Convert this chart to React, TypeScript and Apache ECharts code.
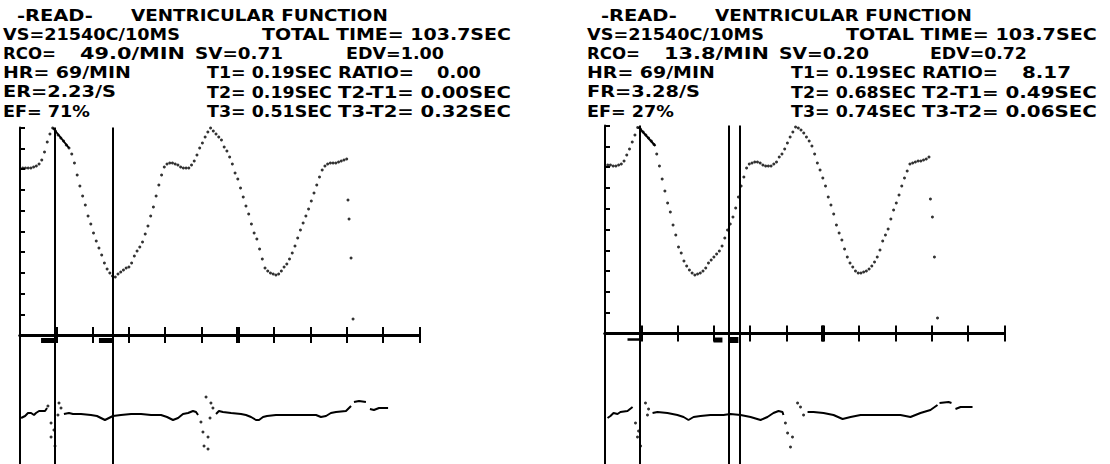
import React, { useEffect, useRef } from "react";
import * as echarts from "echarts";

// ---------- data ----------
const TIME_MAX = 2.2; // s
const TIME_TICK = 0.2; // s
const VOL_T0 = 0.015; // s, first volume sample
const VOL_DT = 0.015; // s, sample step
const EMPHASIZED_TICK = 1.2; // s

// relative volume counts, one value per sample
const LEFT_VOLUME = [
  167, 167, 167, 167, 168, 169, 171, 175, 183, 193,
  201, 207, 204, 200, 197, 194, 190, 187, 181, 172,
  160, 149, 139, 130, 119, 111, 102, 94, 87, 80,
  72, 66, 62, 59, 58, 61, 63, 65, 67, 68,
  72, 79, 84, 88, 93, 101, 109, 119, 128, 139,
  150, 160, 168, 171, 172, 172, 171, 170, 168, 167,
  167, 167, 170, 174, 180, 187, 192, 198, 203, 207,
  204, 201, 198, 195, 188, 184, 178, 171, 162, 156,
  147, 138, 129, 121, 111, 102, 96, 86, 76, 67,
  64, 62, 61, 60, 61, 64, 68, 71, 76, 82,
  89, 97, 105, 112, 119, 126, 134, 142, 150, 158,
  165, 169, 171, 172, 172, 172, 173, 174, 175, 176,
];
const RIGHT_VOLUME = [
  168.5, 168.5, 167.5, 167.5, 168.5, 169.5, 172.5, 178.5, 184.5, 191.5,
  198.5, 206, 204.5, 201.5, 198.5, 195.5, 192.5, 189, 179.5, 167.5,
  154.5, 142.5, 130.5, 121.5, 108.5, 98.5, 86.5, 80.5, 72.5, 67.5,
  63.5, 60.5, 58.5, 59.5, 60.5, 62.5, 65.5, 70.5, 73.5, 76.5,
  79.5, 82.5, 87.5, 95.5, 103.5, 109.5, 116.5, 125.5, 136.5, 147.5,
  156.5, 165.5, 169.5, 170.5, 171.5, 171.5, 170.5, 168.5, 167.5, 167.5,
  167.5, 169.5, 171.5, 176.5, 179.5, 184.5, 190.5, 196.5, 201.5, 206.5,
  205.5, 203.5, 200.5, 196.5, 192.5, 187.5, 179.5, 170.5, 163.5, 155.5,
  147.5, 136.5, 128.5, 119.5, 108.5, 100.5, 93.5, 84.5, 76.5, 70.5,
  66.5, 62.5, 60.5, 60.5, 61.5, 62.5, 64.5, 67.5, 71.5, 76.5,
  83.5, 92.5, 98.5, 104.5, 114.5, 123.5, 130.5, 138.5, 147.5, 155.5,
  162.5, 169.5, 170.5, 171.5, 172.5, 172.5, 173.5, 174.5, 176.5,
];
const LEFT_VOLUME_LINK = [[0.182, 207], [0.27, 187]];
const RIGHT_VOLUME_LINK = [[0.184, 206.5], [0.278, 187.5]];
const LEFT_VOLUME_TAIL = [[1.807, 135], [1.813, 116], [1.824, 77], [1.835, 16]];
const RIGHT_VOLUME_TAIL = [[1.793, 134.5], [1.804, 116.5], [1.815, 76.5], [1.832, 15.5]];

const LEFT_CURSORS = [0.19, 0.51];
const RIGHT_CURSORS = [0.19, 0.68, 0.74];

// ECG (relative amplitude, baseline 0)
const LEFT_ECG_SEGMENTS = [
  [[0.006, -1], [0.028, 1], [0.044, 4], [0.061, 4], [0.077, 2], [0.088, 4], [0.105, 6], [0.138, 6], [0.149, 9]],
  [[0.242, 3], [0.27, 4], [0.292, 3], [0.336, 3], [0.391, 2], [0.424, 1], [0.446, -1], [0.468, -3], [0.49, -1], [0.512, 1], [0.556, 2], [0.612, 3], [0.667, 3], [0.722, 2], [0.777, 2], [0.81, 0], [0.843, -3], [0.871, -1], [0.898, 3], [0.926, 4], [0.953, 6], [0.97, 5], [0.981, 2]],
  [[1.08, 3], [1.096, 6], [1.118, 5], [1.163, 4], [1.218, 3], [1.245, 2], [1.273, 0], [1.3, -3], [1.317, -3], [1.339, 0], [1.361, 1], [1.41, 2], [1.493, 2], [1.576, 2], [1.631, 2], [1.658, 0], [1.686, 1], [1.713, 4], [1.741, 5], [1.796, 6], [1.824, 11]],
  [[1.84, 15], [1.868, 16], [1.906, 15]],
  [[1.928, 8], [1.95, 7], [1.978, 9], [2.028, 9]],
];
const LEFT_ECG_DOTS = [
  [0.154, 11], [0.171, -6], [0.187, -13], [0.171, -20], [0.193, -29], [0.215, 14], [0.226, 9], [0.209, 2],
  [0.997, -5], [1.008, -15], [1.036, -20], [1.014, -29], [1.036, -32], [1.025, 20], [1.052, 14], [1.063, 9], [1.047, -1],
];
const RIGHT_ECG_SEGMENTS = [
  [[0.014, -3], [0.03, -1], [0.047, 2], [0.069, 1], [0.085, 3], [0.124, 4], [0.152, 8]],
  [[0.262, 2], [0.289, 3], [0.344, 2], [0.399, 0], [0.433, -2], [0.46, -5], [0.488, -2], [0.526, -1], [0.581, 0], [0.653, 0], [0.691, 1], [0.747, 0], [0.802, -2], [0.857, -5], [0.895, -2], [0.928, 2], [0.956, 4], [0.978, 3], [0.983, 0]],
  [[1.116, 3], [1.149, 3], [1.204, 2], [1.259, 0], [1.309, -4], [1.353, -2], [1.408, 0], [1.479, 0], [1.628, 0], [1.683, -2], [1.738, 2], [1.793, 5], [1.832, 10]],
  [[1.843, 12], [1.893, 13], [1.909, 12]],
  [[1.931, 6], [1.959, 8], [2.025, 8]],
];
const RIGHT_ECG_DOTS = [
  [0.168, -8], [0.185, -16], [0.179, -22], [0.196, -31], [0.223, 12], [0.24, 6], [0.234, 0],
  [0.994, -8], [1.006, -18], [1.033, -22], [1.022, -32], [1.061, 12], [1.077, 8], [1.094, 0],
];

// interval markers under the time axis: [from, to, level]
const LEFT_MARKERS = [[0.116, 0.198, 76.5], [0.435, 0.512, 76.5]];
const RIGHT_MARKERS = [[0.124, 0.196, 75.5], [0.598, 0.647, 75], [0.68, 0.735, 75]];
const LEFT_MARKER_WEIGHT = [5, 5];
const RIGHT_MARKER_WEIGHT = [2.5, 5, 6];

// readout texts
const LEFT_TEXT = [
  "-READ-", "VENTRICULAR FUNCTION",
  "VS=21540C/10MS", "TOTAL TIME= 103.7SEC",
  "RCO=", "49.0/MIN", "SV=0.71", "EDV=1.00",
  "HR= 69/MIN", "T1= 0.19SEC", "RATIO=", "0.00",
  "ER=2.23/S", "T2= 0.19SEC", "T2-T1= 0.00SEC",
  "EF= 71%", "T3= 0.51SEC", "T3-T2= 0.32SEC",
];
const RIGHT_TEXT = [
  "-READ-", "VENTRICULAR FUNCTION",
  "VS=21540C/10MS", "TOTAL TIME= 103.7SEC",
  "RCO=", "13.8/MIN", "SV=0.20", "EDV=0.72",
  "HR= 69/MIN", "T1= 0.19SEC", "RATIO=", "8.17",
  "FR=3.28/S", "T2= 0.68SEC", "T2-T1= 0.49SEC",
  "EF= 27%", "T3= 0.74SEC", "T3-T2= 0.06SEC",
];

// ---------- layout (pixels) ----------
const ROW_Y = [15, 34.2, 53.4, 72.6, 91.8, 111];
// [x start, x end, row] for each text piece
const LEFT_TEXT_BOX = [
  [17, 93, 0], [131, 388, 0],
  [3, 180, 1], [262, 511, 1],
  [3, 56, 2], [80, 185, 2], [195, 283, 2], [346, 444, 2],
  [3, 131, 3], [207, 332, 3], [338, 414, 3], [437, 481, 3],
  [3, 116, 4], [207, 332, 4], [338, 511, 4],
  [3, 90, 5], [207, 332, 5], [338, 511, 5],
];
const RIGHT_TEXT_BOX = [
  [601, 677, 0], [715, 972, 0],
  [587, 764, 1], [846, 1097, 1],
  [587, 640, 2], [664, 769, 2], [779, 869, 2], [930, 1027, 2],
  [587, 715, 3], [791, 916, 3], [922, 998, 3], [1022, 1071, 3],
  [587, 700, 4], [791, 916, 4], [922, 1097, 4],
  [587, 674, 5], [791, 916, 5], [922, 1097, 5],
];

const INK = "#000";
const FONT_SIZE = 16;
const FONT_FAMILY = '"DejaVu Sans", "Liberation Sans", sans-serif';

type PanelDef = {
  volume: number[];
  volMax: number;
  volTick: number;
  link: number[][];
  tail: number[][];
  cursors: number[];
  ecgSegments: number[][][];
  ecgDots: number[][];
  ecgRange: [number, number];
  markers: number[][];
  markerWeight: number[];
  upper: { left: number; top: number; height: number };
  lower: { top: number; height: number };
};

const PANELS: PanelDef[] = [
  {
    volume: LEFT_VOLUME, volMax: 207.5, volTick: 20.75,
    link: LEFT_VOLUME_LINK, tail: LEFT_VOLUME_TAIL, cursors: LEFT_CURSORS,
    ecgSegments: LEFT_ECG_SEGMENTS, ecgDots: LEFT_ECG_DOTS, ecgRange: [-47, 82],
    markers: LEFT_MARKERS, markerWeight: LEFT_MARKER_WEIGHT,
    upper: { left: 20, top: 127.5, height: 207.5 },
    lower: { top: 335, height: 129 },
  },
  {
    volume: RIGHT_VOLUME, volMax: 208, volTick: 20.8,
    link: RIGHT_VOLUME_LINK, tail: RIGHT_VOLUME_TAIL, cursors: RIGHT_CURSORS,
    ecgSegments: RIGHT_ECG_SEGMENTS, ecgDots: RIGHT_ECG_DOTS, ecgRange: [-49, 81.5],
    markers: RIGHT_MARKERS, markerWeight: RIGHT_MARKER_WEIGHT,
    upper: { left: 605, top: 125.5, height: 208 },
    lower: { top: 333.5, height: 130.5 },
  },
];

const PX_PER_SECOND = 181.5;

function buildOption(measure: (s: string) => number) {
  const grid: any[] = [];
  const xAxis: any[] = [];
  const yAxis: any[] = [];
  const series: any[] = [];
  const plotWidth = TIME_MAX * PX_PER_SECOND;

  PANELS.forEach((p, pi) => {
    const up = pi * 2;
    const low = pi * 2 + 1;
    grid.push({ left: p.upper.left, top: p.upper.top, width: plotWidth, height: p.upper.height });
    grid.push({ left: p.upper.left, top: p.lower.top, width: plotWidth, height: p.lower.height });

    const timeAxis = (gi: number, position: string) => ({
      type: "value", gridIndex: gi, position, min: 0, max: TIME_MAX, interval: TIME_TICK,
      axisLine: { show: true, onZero: false, lineStyle: { color: INK, width: 3 } },
      axisTick: { show: true, inside: true, length: 8, lineStyle: { color: INK, width: 2 } },
      axisLabel: { show: false }, splitLine: { show: false },
    });
    xAxis.push(timeAxis(up, "bottom"));
    xAxis.push(timeAxis(low, "top"));

    yAxis.push({
      type: "value", gridIndex: up, min: 0, max: p.volMax, interval: p.volTick,
      axisLine: { show: true, onZero: false, lineStyle: { color: INK, width: 2 } },
      axisTick: { show: true, inside: true, length: 5, lineStyle: { color: INK, width: 2 } },
      axisLabel: { show: false }, splitLine: { show: false },
    });
    yAxis.push({
      type: "value", gridIndex: low, min: p.ecgRange[0], max: p.ecgRange[1],
      axisLine: { show: true, onZero: false, lineStyle: { color: INK, width: 2 } },
      axisTick: { show: false }, axisLabel: { show: false }, splitLine: { show: false },
    });

    const cursorLines = (extra: any[]) => ({
      silent: true, symbol: ["none", "none"], label: { show: false },
      lineStyle: { color: INK, width: 2, type: "solid" },
      emphasis: { disabled: true },
      data: [...p.cursors.map((c) => ({ xAxis: c })), ...extra],
    });

    series.push({
      type: "scatter", xAxisIndex: up, yAxisIndex: up, silent: true,
      symbol: "circle", symbolSize: 3, itemStyle: { color: INK },
      data: p.volume.map((v, i) => [VOL_T0 + i * VOL_DT, v]),
      markLine: cursorLines([
        [{ coord: [EMPHASIZED_TICK, 0], lineStyle: { width: 4, color: INK, type: "solid" } }, { coord: [EMPHASIZED_TICK, 8] }],
      ]),
    });
    series.push({
      type: "line", xAxisIndex: up, yAxisIndex: up, silent: true, showSymbol: false, symbol: "none",
      lineStyle: { color: INK, width: 2 }, data: p.link,
    });
    series.push({
      type: "scatter", xAxisIndex: up, yAxisIndex: up, silent: true,
      symbol: "circle", symbolSize: 3, itemStyle: { color: INK }, data: p.tail,
    });

    p.ecgSegments.forEach((seg, si) => {
      const s: any = {
        type: "line", xAxisIndex: low, yAxisIndex: low, silent: true, showSymbol: false, symbol: "none",
        lineStyle: { color: INK, width: 2 }, data: seg,
      };
      if (si === 0) {
        s.markLine = cursorLines([
          [{ coord: [EMPHASIZED_TICK, p.ecgRange[1]], lineStyle: { width: 4, color: INK, type: "solid" } }, { coord: [EMPHASIZED_TICK, p.ecgRange[1] - 8] }],
        ]);
      }
      series.push(s);
    });
    series.push({
      type: "scatter", xAxisIndex: low, yAxisIndex: low, silent: true,
      symbol: "circle", symbolSize: 3, itemStyle: { color: INK }, data: p.ecgDots,
    });
    p.markers.forEach((m, mi) => {
      series.push({
        type: "line", xAxisIndex: low, yAxisIndex: low, silent: true, showSymbol: false, symbol: "none",
        lineStyle: { color: INK, width: p.markerWeight[mi], cap: "butt" },
        data: [[m[0], m[2]], [m[1], m[2]]],
      });
    });
  });

  const graphic: any[] = [];
  const addTexts = (texts: string[], boxes: number[][]) => {
    texts.forEach((t, i) => {
      const [x0, x1, row] = boxes[i];
      const w = measure(t) || 1;
      graphic.push({
        type: "text", x: x0, y: ROW_Y[row], scaleX: (x1 - x0) / w, silent: true,
        style: {
          text: t, fill: INK, fontSize: FONT_SIZE, fontWeight: "bold", fontFamily: FONT_FAMILY,
          textAlign: "left", textVerticalAlign: "middle", align: "left", verticalAlign: "middle",
        },
      });
    });
  };
  addTexts(LEFT_TEXT, LEFT_TEXT_BOX);
  addTexts(RIGHT_TEXT, RIGHT_TEXT_BOX);

  return {
    animation: false,
    backgroundColor: "#fff",
    grid, xAxis, yAxis, series, graphic,
  };
}

export default function App() {
  const ref = useRef<HTMLDivElement>(null);
  useEffect(() => {
    document.body.style.margin = "0";
    if (!ref.current) return;
    const ctx = document.createElement("canvas").getContext("2d")!;
    ctx.font = `bold ${FONT_SIZE}px "DejaVu Sans"`;
    const measure = (s: string) => ctx.measureText(s).width;
    const chart = echarts.init(ref.current, undefined, { renderer: "svg" });
    chart.setOption(buildOption(measure) as any);
    return () => chart.dispose();
  }, []);
  return (
    <div
      ref={ref}
      style={{ position: "fixed", left: 0, top: 0, width: 1110, height: 464, background: "#fff" }}
    />
  );
}
